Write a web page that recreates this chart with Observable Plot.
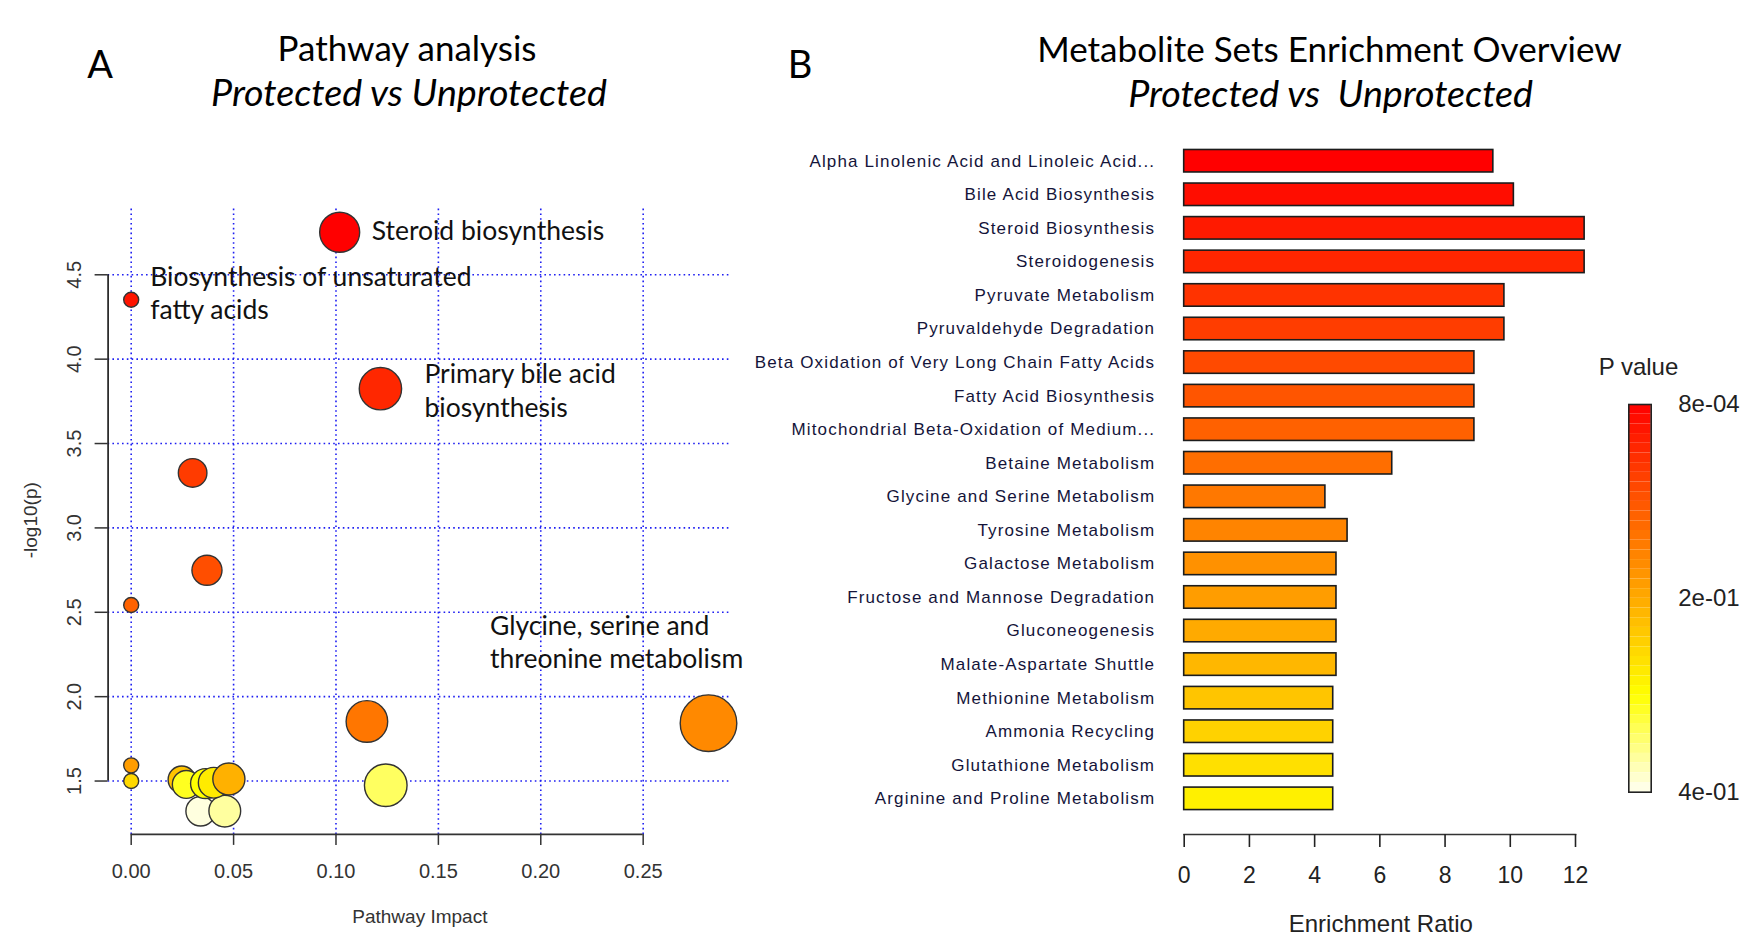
<!DOCTYPE html>
<html><head><meta charset="utf-8">
<script src="https://cdn.jsdelivr.net/npm/d3@7"></script>
<script src="https://cdn.jsdelivr.net/npm/@observablehq/plot@0.6"></script>
<style>
html,body{margin:0;padding:0;background:#fff;overflow:hidden;}
#page{position:relative;width:1741px;height:938px;overflow:hidden;background:#fff;}
#page > svg{position:absolute;left:0;top:0;}
.t{position:absolute;white-space:pre;color:#000;line-height:1;transform:translate(-50%,-50%);}
.cal{font-family:Lato,"Open Sans",sans-serif;}
.ars{font-family:"Liberation Sans",Arial,sans-serif;color:#222;}
</style></head><body><div id="page"></div>
<script>
// ---------------- Panel A data (pathway analysis) ----------------
const pathwayImpact = [0.0339, 0.0457, 0.0247, 0.0269, 0.0363, 0.0403, 0.0477, 0.0, 0.0, 0.1243, 0.1151, 0.2819, 0.0, 0.037, 0.030, 0.1217, 0.0, 0.1018];
const pathwayLogP   = [1.321, 1.322, 1.508, 1.480, 1.485, 1.490, 1.512, 1.500, 1.593, 1.475, 1.853, 1.843, 2.543, 2.749, 3.326, 3.825, 4.352, 4.752];
const pathwayNote   = ["", "", "", "", "", "", "", "", "", "", "",
  "Glycine, serine and\nthreonine metabolism", "", "", "",
  "Primary bile acid\nbiosynthesis", "Biosynthesis of unsaturated\nfatty acids", "Steroid biosynthesis"];
const xTicksA = [0, 0.05, 0.10, 0.15, 0.20, 0.25];
const yTicksA = [1.5, 2.0, 2.5, 3.0, 3.5, 4.0, 4.5];

// ---------------- Panel B data (enrichment overview) ----------------
const setNames = ["Alpha Linolenic Acid and Linoleic Acid...", "Bile Acid Biosynthesis", "Steroid Biosynthesis",
  "Steroidogenesis", "Pyruvate Metabolism", "Pyruvaldehyde Degradation", "Beta Oxidation of Very Long Chain Fatty Acids",
  "Fatty Acid Biosynthesis", "Mitochondrial Beta-Oxidation of Medium...", "Betaine Metabolism",
  "Glycine and Serine Metabolism", "Tyrosine Metabolism", "Galactose Metabolism", "Fructose and Mannose Degradation",
  "Gluconeogenesis", "Malate-Aspartate Shuttle", "Methionine Metabolism", "Ammonia Recycling",
  "Glutathione Metabolism", "Arginine and Proline Metabolism"];
const enrichRatio = [9.48, 10.11, 12.28, 12.28, 9.82, 9.82, 8.90, 8.90, 8.90, 6.38, 4.33, 5.01, 4.67, 4.67, 4.67, 4.67, 4.57, 4.57, 4.57, 4.57];
const setP = [0.0008, 0.0161, 0.0313, 0.0454, 0.0607, 0.0724, 0.0877, 0.1006, 0.1147, 0.1299, 0.1417, 0.1558, 0.1710, 0.1851, 0.2004, 0.2157, 0.2321, 0.2474, 0.2638, 0.2826];
const xTicksB = [0, 2, 4, 6, 8, 10, 12];
const pLegendBreaks = [0.0008, 0.2, 0.4];
const pLegendLabels = ["8e-04", "2e-01", "4e-01"];

const W = 1741, H = 938;
const page = document.getElementById("page");
const AR = '"Liberation Sans", Arial, Helvetica, sans-serif';
const CAL = 'Lato, "Open Sans", sans-serif';
const svgStyle = {background: "transparent", maxWidth: "none", overflow: "visible", fontFamily: AR};

// ---------- Panel A ----------
const ptsA = pathwayImpact.map((x, i) => ({impact: x, logp: pathwayLogP[i], note: pathwayNote[i]}));
const orderA = d3.range(ptsA.length).sort((a, b) => pathwayLogP[b] - pathwayLogP[a]);
orderA.forEach((idx, r) => { ptsA[idx].rank = r; });
const nA = ptsA.length;
const expand = ext => { const d = (ext[1] - ext[0]) * 0.04; return [ext[0] - d, ext[1] + d]; };
const xDomA = expand(d3.extent(pathwayImpact));
const yDomA = expand(d3.extent(pathwayLogP));
const gridStyle = {stroke: "#1f1ff2", strokeOpacity: 1, strokeWidth: 1.6, strokeDasharray: "1.6,3.2"};
const annot = [
  ["Steroid biosynthesis", 32, -2.5],
  ["Biosynthesis of unsaturated\nfatty acids", 19, -8],
  ["Primary bile acid\nbiosynthesis", 44, 0.7],
  ["Glycine, serine and\nthreonine metabolism", -218.5, -82.5]
];
const plotA = Plot.plot({
  width: W, height: H,
  marginLeft: 107.6, marginRight: W - 731.1, marginTop: 208.6, marginBottom: H - 833.9,
  style: svgStyle,
  x: {domain: xDomA},
  y: {domain: yDomA},
  r: {type: "sqrt", domain: [0, d3.max(pathwayImpact)], range: [7.5, 28.3]},
  color: {type: "linear", domain: [0, 13, 14, nA - 1], range: ["#ff0000", "#ffff00", "#ffff20", "#ffffdf"], interpolate: "rgb"},
  marks: [
    Plot.gridX(xTicksA, gridStyle),
    Plot.gridY(yTicksA, gridStyle),
    Plot.ruleY([yDomA[0]], {x1: d3.min(xTicksA), x2: d3.max(xTicksA), stroke: "#333", strokeWidth: 1.7}),
    Plot.ruleX([xDomA[0]], {y1: d3.min(yTicksA), y2: d3.max(yTicksA), stroke: "#222", strokeWidth: 1.7}),
    Plot.axisX(xTicksA, {tickSize: 11, tickPadding: 18, tickFormat: d3.format(".2f"), fontSize: 20, label: null, color: "#333", strokeWidth: 1.5}),
    Plot.axisY(yTicksA, {tickSize: 13, tickFormat: () => "", label: null, color: "#333", strokeWidth: 1.5}),
    Plot.text(yTicksA, {y: d => d, text: d => d3.format(".1f")(d), frameAnchor: "left", dx: -33.2, rotate: -90,
      textAnchor: "middle", lineAnchor: "middle", fontSize: 20, fill: "#333"}),
    Plot.text(["-log10(p)"], {frameAnchor: "left", dx: -77.6, dy: -1.5, rotate: -90, textAnchor: "middle", lineAnchor: "middle", fontSize: 19, fill: "#333"}),
    Plot.text(["Pathway Impact"], {frameAnchor: "bottom", dy: 83, textAnchor: "middle", lineAnchor: "middle", fontSize: 19, fill: "#333"}),
    Plot.dot(ptsA, {x: "impact", y: "logp", r: "impact", fill: "rank", stroke: "#333", strokeWidth: 1.4, sort: null}),
    ...annot.map(([k, dx, dy]) => Plot.text(ptsA.filter(d => d.note === k), {
      x: "impact", y: "logp", text: "note", dx, dy, textAnchor: "start", lineAnchor: "middle",
      fontSize: 26.5, lineHeight: 1.25, fontFamily: CAL, fill: "#111"
    }))
  ]
});
page.appendChild(plotA);

// ---------- Panel B ----------
const pMin = d3.min(pLegendBreaks), pMax = d3.max(pLegendBreaks);
const heatScale = {type: "linear", domain: [pMin, pMin + 0.75 * (pMax - pMin), pMax], range: ["#ff0000", "#ffff00", "#fffff2"], interpolate: "rgb"};
const rowsB = setNames.map((name, i) => ({name, ratio: enrichRatio[i], p: setP[i]}));
const plotB = Plot.plot({
  width: W, height: H,
  marginLeft: 1183.7, marginRight: W - 1575, marginTop: 138.4, marginBottom: H - 834,
  style: svgStyle,
  x: {domain: [0, d3.max(xTicksB)]},
  y: {domain: setNames, paddingInner: 0.33, paddingOuter: 0.529, align: 0.312, round: false},
  color: heatScale,
  marks: [
    Plot.barX(rowsB, {x: "ratio", y: "name", fill: "p", stroke: "#1c1c1c", strokeWidth: 1.6}),
    Plot.frame({anchor: "bottom", stroke: "#333", strokeWidth: 1.7}),
    Plot.axisX(xTicksB, {tickSize: 13, tickPadding: 19, fontSize: 23, label: null, color: "#222", strokeWidth: 1.6}),
    Plot.axisY({tickSize: 0, tickPadding: 29, fontSize: 17, label: null, color: "#14143a"})
  ]
});
page.appendChild(plotB);
// slightly wider letter spacing for the set names, as in the original rendering
plotB.querySelectorAll('g[aria-label="y-axis tick label"]').forEach(g => g.setAttribute("letter-spacing", "1.15"));

// ---------- Colour bar ----------
const nSteps = 40;
const steps = d3.range(nSteps).map(i => ({
  y1: pMin + (pMax - pMin) * i / nSteps,
  y2: pMin + (pMax - pMin) * (i + 1) / nSteps,
  v: pMin + (pMax - pMin) * (i + 0.5) / nSteps
}));
const plotC = Plot.plot({
  width: W, height: H,
  marginLeft: 1628.3, marginRight: W - 1650.7, marginTop: 404, marginBottom: H - 791.7,
  style: svgStyle,
  y: {domain: [pMin, pMax], reverse: true, axis: null},
  color: heatScale,
  marks: [
    Plot.rect(steps, {y1: "y1", y2: "y2", fill: "v"}),
    Plot.frame({stroke: "#222", strokeWidth: 1.6}),
    Plot.text(pLegendBreaks, {y: d => d, text: (d, i) => pLegendLabels[i], frameAnchor: "right", dx: 27, textAnchor: "start", lineAnchor: "middle", fontSize: 24, fill: "#222"})
  ]
});
page.appendChild(plotC);

// ---------- Titles and other text ----------
const texts = [
  ["A", 100, 63, "cal", 38, false, null],
  ["Pathway analysis", 407, 47, "cal", 33, false, 259],
  ["Protected vs Unprotected", 409, 92, "cal", 33, true, 396],
  ["B", 800, 63, "cal", 38, false, null],
  ["Metabolite Sets Enrichment Overview", 1329.5, 49, "cal", 33, false, 585],
  ["Protected vs  Unprotected", 1330.6, 93, "cal", 33, true, 405],
  ["P value", 1638.5, 367, "ars", 24, false, null],
  ["Enrichment Ratio", 1380.8, 924, "ars", 24, false, null]
];
const fitters = [];
texts.forEach(([s, x, y, cls, fs, it, w]) => {
  const d = document.createElement("div");
  d.className = "t " + cls;
  d.textContent = s;
  d.style.left = x + "px"; d.style.top = y + "px";
  d.style.fontSize = fs + "px";
  if (it) d.style.fontStyle = "italic";
  page.appendChild(d);
  if (w) fitters.push([d, fs, w]);
});
function fit() {
  fitters.forEach(([d, fs, w]) => {
    d.style.fontSize = fs + "px";
    const m = d.getBoundingClientRect().width;
    if (m > 0) d.style.fontSize = (fs * w / m) + "px";
  });
}
fit();
if (document.fonts && document.fonts.ready) document.fonts.ready.then(fit);
</script></body></html>
